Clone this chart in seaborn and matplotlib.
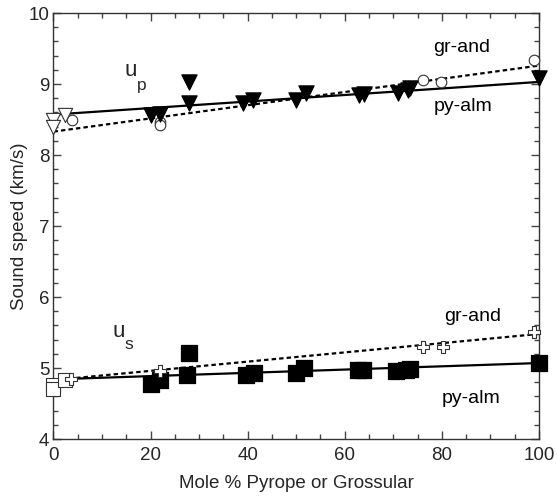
import matplotlib
matplotlib.use("Agg")
import matplotlib.pyplot as plt
import seaborn as sns
import pandas as pd
from matplotlib.ticker import MultipleLocator

# Compressional (u_p) and shear (u_s) sound speeds vs garnet composition
# pyrope-almandine series (filled markers)
pyalm_x = [20, 22, 28, 28, 39, 41, 50, 52, 63, 64, 71, 73, 73.5, 100]
pyalm_up = [8.56, 8.58, 8.73, 9.03, 8.73, 8.77, 8.77, 8.88, 8.85, 8.86, 8.87, 8.92, 8.95, 9.09]
pyalm_us_x = [20, 22, 27.5, 28, 39.7, 41.4, 49.9, 51.6, 62.7, 63.7, 70.6, 72.7, 73.4, 100]
pyalm_us = [4.78, 4.83, 4.90, 5.21, 4.90, 4.93, 4.93, 5.00, 4.97, 4.97, 4.96, 4.97, 4.99, 5.07]

# almandine-rich points near 0 mol% (open markers)
alm_x = [0, 0, 2.4]
alm_up = [8.49, 8.39, 8.56]
alm_us_x = [0, 0, 2.4]
alm_us = [4.76, 4.70, 4.83]

# grossular-andradite series (open circles / open crosses)
grand_x = [3.9, 22, 22, 76.1, 79.9, 99]
grand_up = [8.49, 8.47, 8.42, 9.06, 9.03, 9.34]
grand_us_x = [3.7, 22, 76.1, 80.2, 99]
grand_us = [4.85, 4.96, 5.30, 5.30, 5.51]

# linear fits through each series
fit_x = [0, 100]
fit_pyalm_up = [8.57, 9.03]
fit_grand_up = [8.33, 9.26]
fit_pyalm_us = [4.84, 5.07]
fit_grand_us = [4.83, 5.48]

sns.set_style("ticks")
plt.rcParams["font.family"] = ["Liberation Sans", "DejaVu Sans"]

fig = plt.figure(figsize=(5.57, 4.97), dpi=100)
ax = fig.add_axes([0.096, 0.1167, 0.8716, 0.857])

fits = pd.DataFrame({"x": fit_x, "a": fit_pyalm_up, "b": fit_grand_up,
                     "c": fit_pyalm_us, "d": fit_grand_us})
dash = (0, (2, 1.4))
sns.lineplot(data=fits, x="x", y="a", ax=ax, color="black", lw=1.6)
sns.lineplot(data=fits, x="x", y="c", ax=ax, color="black", lw=1.6)
sns.lineplot(data=fits, x="x", y="b", ax=ax, color="black", lw=1.6, linestyle=dash)
sns.lineplot(data=fits, x="x", y="d", ax=ax, color="black", lw=1.6, linestyle=dash)

kw = dict(ax=ax, legend=False, zorder=3, clip_on=False)
sns.scatterplot(x=grand_x, y=grand_up, marker="o", s=58, facecolor="white",
                edgecolor="#333333", linewidth=0.8, **kw)
sns.scatterplot(x=alm_x, y=alm_up, marker="v", s=105, facecolor="white",
                edgecolor="#333333", linewidth=0.8, **kw)
sns.scatterplot(x=pyalm_x, y=pyalm_up, marker="v", s=120, color="black",
                edgecolor="black", **kw)

sns.scatterplot(x=alm_us_x, y=alm_us, marker="s", s=105, facecolor="white",
                edgecolor="#333333", linewidth=0.8, **kw)
sns.scatterplot(x=pyalm_us_x, y=pyalm_us, marker="s", s=130, color="black",
                edgecolor="black", **kw)
sns.scatterplot(x=grand_us_x, y=grand_us, marker="P", s=70, facecolor="white",
                edgecolor="#333333", linewidth=0.8, **kw)

ax.set_xlim(0, 100)
ax.set_ylim(4, 10)
ax.xaxis.set_major_locator(MultipleLocator(20))
ax.xaxis.set_minor_locator(MultipleLocator(5))
ax.yaxis.set_major_locator(MultipleLocator(1))
ax.yaxis.set_minor_locator(MultipleLocator(0.2))
ax.tick_params(which="both", direction="in", top=True, right=True,
               labelsize=13.5, color="#444444")
ax.tick_params(axis="x", pad=6)
ax.tick_params(axis="y", pad=3)
ax.tick_params(which="major", length=6, width=1)
ax.tick_params(which="minor", length=3.5, width=1)
for s in ax.spines.values():
    s.set_visible(True)
    s.set_color("#333333")
    s.set_linewidth(1)

ax.set_xlabel("Mole % Pyrope or Grossular", fontsize=13.5, labelpad=8)
ax.set_ylabel("Sound speed (km/s)", fontsize=13.5, labelpad=0.5)

tk = dict(fontsize=14, color="black", ha="center", va="center")
ax.text(84.0, 9.52, "gr-and", **tk)
ax.text(84.3, 8.69, "py-alm", **tk)
ax.text(86.4, 5.72, "gr-and", **tk)
ax.text(86.0, 4.57, "py-alm", **tk)
ax.text(16.0, 9.19, "u", fontsize=16, ha="center", va="center")
ax.text(18.2, 8.98, "p", fontsize=12.5, ha="center", va="center")
ax.text(13.5, 5.51, "u", fontsize=16, ha="center", va="center")
ax.text(15.6, 5.33, "s", fontsize=12.5, ha="center", va="center")

fig.savefig("out.png", dpi=100)
